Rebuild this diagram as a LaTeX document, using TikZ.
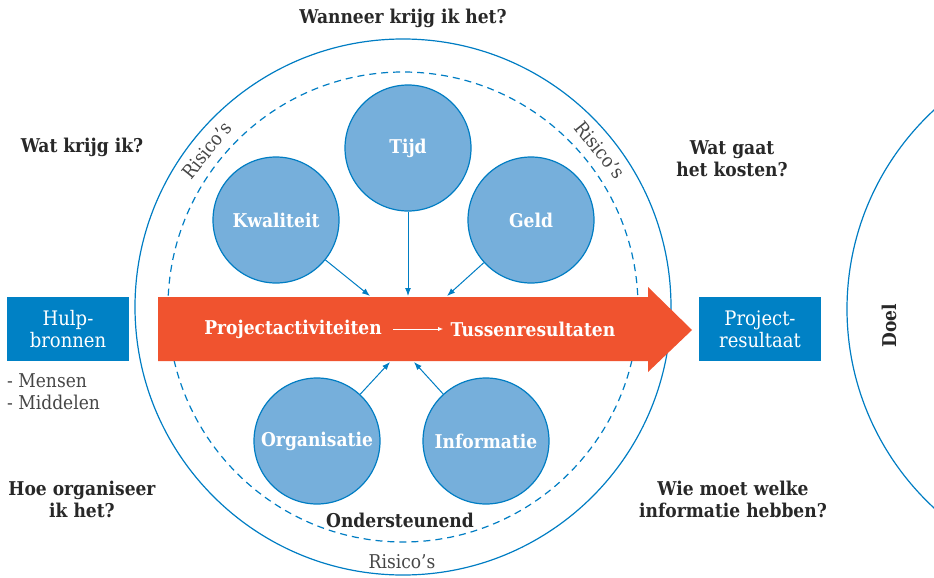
\documentclass[tikz,border=0pt]{standalone}
\usepackage{fontspec}
\setmainfont{DejaVu Serif Condensed}
\usetikzlibrary{arrows.meta}
\definecolor{ringblue}{RGB}{0,125,195}
\definecolor{bubblefill}{RGB}{118,175,219}
\definecolor{boxblue}{RGB}{0,129,197}
\definecolor{barorange}{RGB}{240,83,47}
\definecolor{textdark}{RGB}{40,40,40}
\definecolor{textgray}{RGB}{70,70,70}
\tikzset{
	ring/.style={circle, draw=ringblue, line width=1.2pt, inner sep=0pt},
	bubble/.style={circle, draw=ringblue, line width=1.2pt, fill=bubblefill, minimum size=126pt, inner sep=0pt, text=white, font=\bfseries\fontsize{19}{22}\selectfont},
	feed/.style={ringblue, line width=1pt, -{Latex[length=8pt,width=6pt]}},
	question/.style={align=center, text=textdark, font=\bfseries\fontsize{19}{22}\selectfont},
	blockbox/.style={fill=boxblue, minimum width=122pt, minimum height=64pt, inner sep=0pt, align=center, text=white, font=\fontsize{20}{22}\selectfont},
	risk/.style={text=textgray, font=\fontsize{19}{22}\selectfont},
	bartext/.style={text=white, font=\bfseries\fontsize{19}{22}\selectfont},
}
\begin{document}
\begin{tikzpicture}[x=1pt,y=-1pt]
	\useasboundingbox (0,0) rectangle (934,578);
	% rings
	\node[ring, minimum size=536pt] (outer) at (403,307) {};
	\node[ring, dash pattern=on 7pt off 5pt, minimum size=470pt] (inner) at (403,307) {};
	\node[ring, minimum size=542pt] (doelring) at (1118,309) {};

	% orange bar
	\fill[barorange] (158,297) -- (648,297) -- (648,287) -- (692,330) -- (648,372) -- (648,361) -- (158,361) -- cycle;
	\node[bartext] (acts) at (293,329) {Projectactiviteiten};
	\node[bartext] (tussen) at (533,329) {Tussenresultaten};
	\draw[white, line width=0.8pt, -{Latex[length=5pt,width=4pt]}, shorten <=8pt, shorten >=4pt] (acts.east) -- (tussen.west);

	% circles
	\node[bubble] (tijd) at (408,148) {Tijd};
	\node[bubble] (kwal) at (276,220) {Kwaliteit};
	\node[bubble] (geld) at (531,220) {Geld};
	\node[bubble] (org) at (317,441) {Organisatie};
	\node[bubble] (info) at (486,441) {Informatie};

	\coordinate (kwalin) at (370,296);
	\coordinate (tijdin) at (408,296);
	\coordinate (geldin) at (447,296);
	\coordinate (orgin) at (390,362);
	\coordinate (infoin) at (414,362);
	\draw[feed] (kwal) -- (kwalin);
	\draw[feed] (tijd) -- (tijdin);
	\draw[feed] (geld) -- (geldin);
	\draw[feed] (org) -- (orgin);
	\draw[feed] (info) -- (infoin);

	% boxes
	\node[blockbox] (hulp) at (68,329) {Hulp-\\bronnen};
	\node[blockbox] (result) at (760,329) {Project-\\resultaat};
	\node[risk, anchor=north west, align=left, inner sep=0pt] (middelen) at (7,373) {- Mensen\\- Middelen};

	% questions
	\node[question] (wanneer) at (403,18) {Wanneer krijg ik het?};
	\node[question] (wat) at (82,147) {Wat krijg ik?};
	\node[question] (kosten) at (732,159) {Wat gaat\\het kosten?};
	\node[question] (hoe) at (82,499) {Hoe organiseer\\ik het?};
	\node[question] (wie) at (733,499) {Wie moet welke\\informatie hebben?};
	\node[question] (onder) at (400,520) {Ondersteunend};
	\node[question, rotate=90] (doel) at (889,326) {Doel};

	% risks
	\node[risk, rotate=51] (riskl) at (207,150) {Risico’s};
	\node[risk, rotate=-51] (riskr) at (600,150) {Risico’s};
	\node[risk] (riskb) at (402,562) {Risico’s};
\end{tikzpicture}
\end{document}
